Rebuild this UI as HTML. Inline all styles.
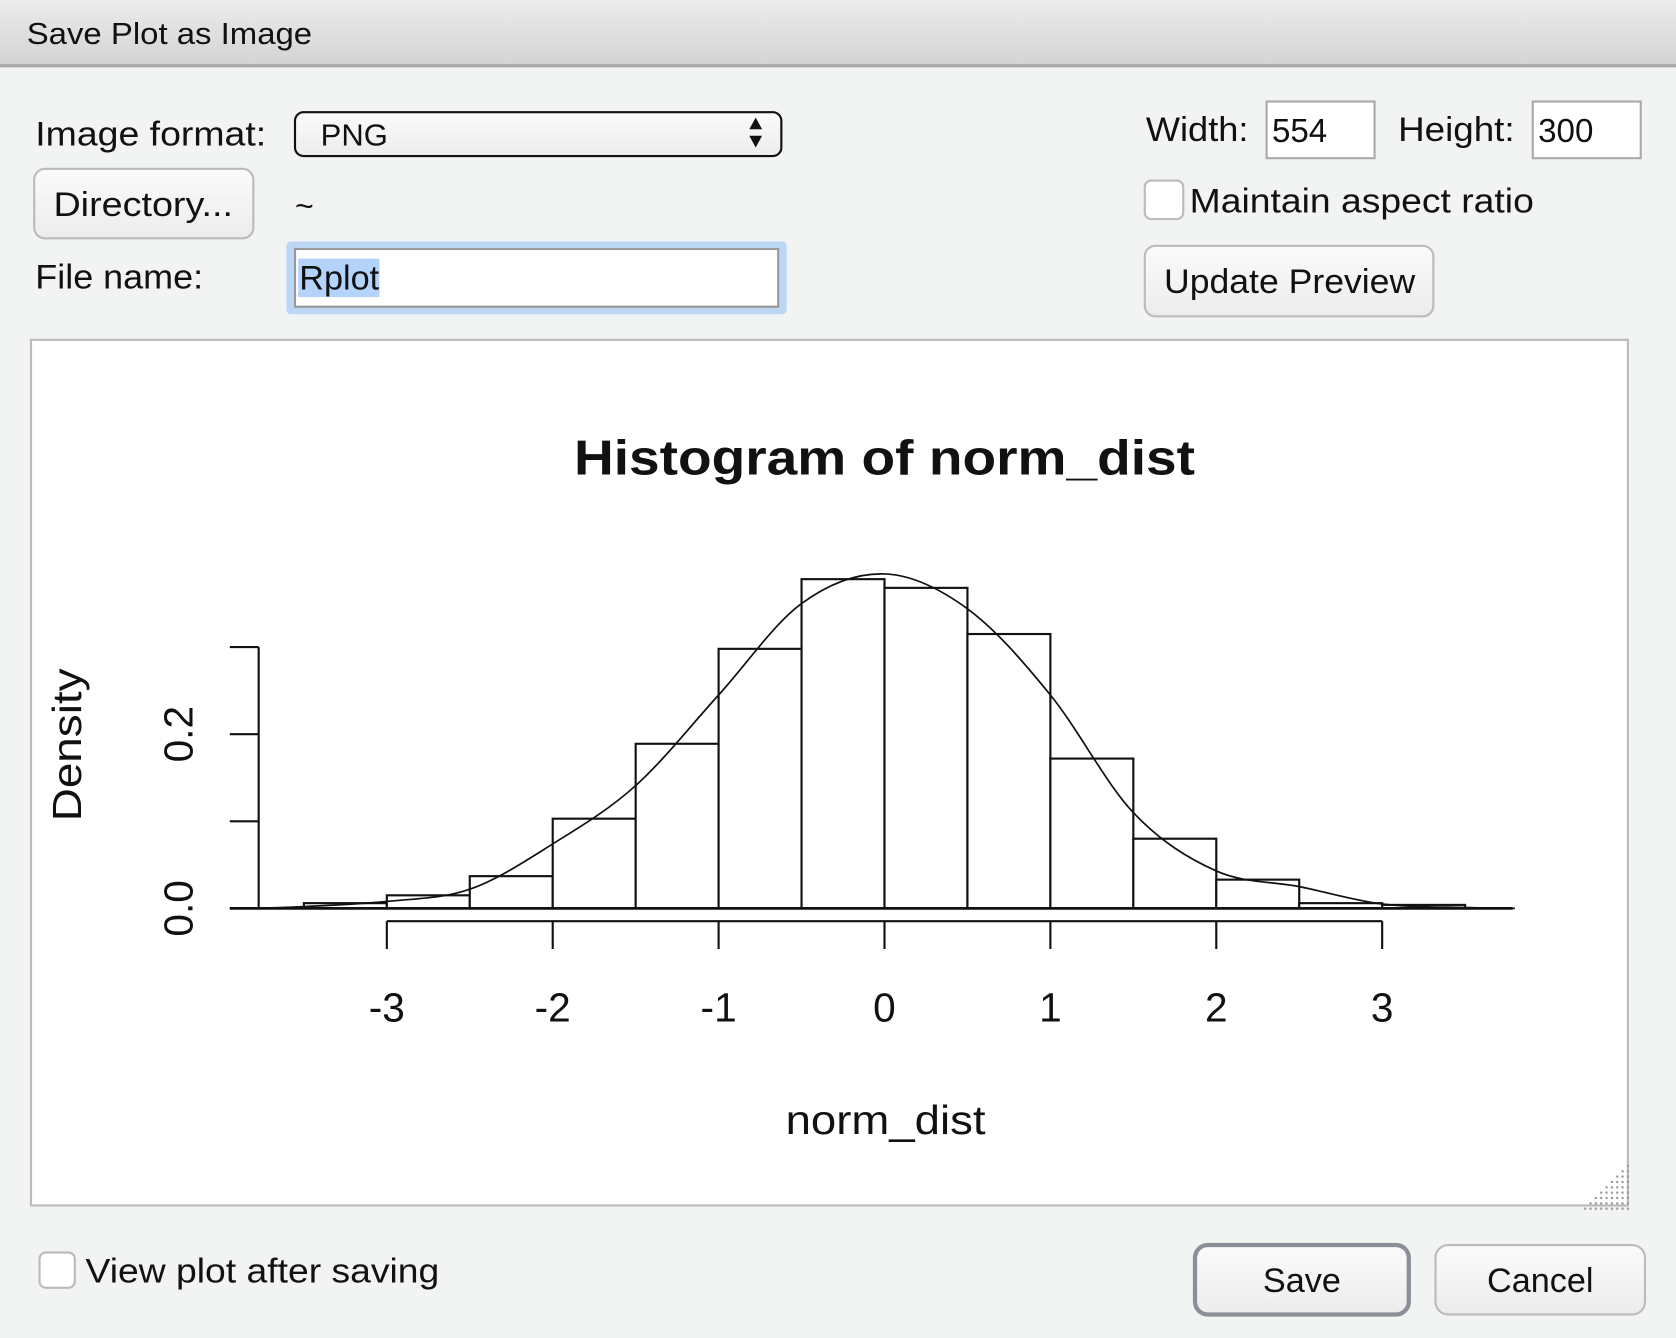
<!DOCTYPE html>
<html><head><meta charset="utf-8"><style>
html,body{margin:0;padding:0;width:1676px;height:1338px;overflow:hidden;background:#f2f3f3}
svg{display:block}
text{font-family:"Liberation Sans",sans-serif}
</style></head><body>
<svg id="s" width="1676" height="1338" viewBox="0 0 1568 1252" preserveAspectRatio="none" xmlns="http://www.w3.org/2000/svg">
<defs>
<linearGradient id="tb" x1="0" y1="0" x2="0" y2="1"><stop offset="0" stop-color="#ececec"/><stop offset="1" stop-color="#d3d3d3"/></linearGradient>
<linearGradient id="bt" x1="0" y1="0" x2="0" y2="1"><stop offset="0" stop-color="#fbfbfb"/><stop offset="1" stop-color="#ececec"/></linearGradient>
</defs>
<rect x="0" y="0" width="1568" height="1252" fill="#f2f3f3"/>
<g>
<rect x="0" y="0" width="1568" height="62" fill="url(#tb)"/>
<rect x="0" y="60" width="1568" height="3" fill="#a9a9a9"/>
<text x="25" y="41" font-size="29" fill="#111" textLength="267" lengthAdjust="spacingAndGlyphs">Save Plot as Image</text>
</g>
<text x="33" y="136" font-size="32" fill="#111" textLength="216" lengthAdjust="spacingAndGlyphs">Image format:</text>
<g>
<rect x="276" y="105" width="455" height="41" rx="8" fill="url(#bt)" stroke="#111" stroke-width="2"/>
<text x="300" y="136" font-size="29" fill="#111">PNG</text>
<path d="M701 121 L707 110 L713 121 Z M701 127 L713 127 L707 138 Z" fill="#111"/>
</g>
<g>
<rect x="32" y="158" width="205" height="65" rx="10" fill="url(#bt)" stroke="#bbb" stroke-width="2"/>
<text x="50" y="202" font-size="32" fill="#111" textLength="168" lengthAdjust="spacingAndGlyphs">Directory...</text>
</g>
<text x="276" y="203" font-size="30" fill="#111">~</text>
<text x="33" y="270" font-size="32" fill="#111" textLength="157" lengthAdjust="spacingAndGlyphs">File name:</text>
<g>
<rect x="268" y="226" width="468" height="68" rx="4" fill="#bcd7f6"/>
<rect x="276" y="233" width="452" height="54" fill="#fff" stroke="#999" stroke-width="2"/>
<rect x="279" y="242" width="76" height="36" fill="#b3d3fb"/>
<text x="280" y="271" font-size="32" fill="#111">Rplot</text>
</g>
<text x="1072" y="132" font-size="32" fill="#111" textLength="96" lengthAdjust="spacingAndGlyphs">Width:</text>
<g><rect x="1185" y="95" width="101" height="53" fill="#fff" stroke="#aaa" stroke-width="2"/><text x="1190" y="133" font-size="31" fill="#111">554</text></g>
<text x="1308" y="132" font-size="32" fill="#111" textLength="109" lengthAdjust="spacingAndGlyphs">Height:</text>
<g><rect x="1434" y="95" width="101" height="53" fill="#fff" stroke="#aaa" stroke-width="2"/><text x="1439" y="133" font-size="31" fill="#111">300</text></g>
<rect x="1071" y="169" width="36" height="36" rx="6" fill="#fff" stroke="#bbb" stroke-width="2"/>
<text x="1113" y="199" font-size="32" fill="#111" textLength="322" lengthAdjust="spacingAndGlyphs">Maintain aspect ratio</text>
<g>
<rect x="1071" y="230" width="270" height="66" rx="10" fill="url(#bt)" stroke="#bbb" stroke-width="2"/>
<text x="1089" y="274" font-size="32" fill="#111" textLength="235" lengthAdjust="spacingAndGlyphs">Update Preview</text>
</g>
<rect x="29" y="318" width="1494" height="810" fill="#fff" stroke="#bbb" stroke-width="2"/>
<g id="grip"></g>
<g id="chart">
<text x="537" y="444" font-size="46" font-weight="bold" fill="#111" textLength="581" lengthAdjust="spacingAndGlyphs">Histogram of norm_dist</text>
<text x="735" y="1061" font-size="38" fill="#111" textLength="187" lengthAdjust="spacingAndGlyphs">norm_dist</text>
<text transform="translate(76 697) rotate(-90)" font-size="38" text-anchor="middle" fill="#111" textLength="143" lengthAdjust="spacingAndGlyphs">Density</text>
</g>
<rect x="37" y="1172" width="33" height="33" rx="6" fill="#fff" stroke="#bbb" stroke-width="2"/>
<text x="80" y="1200" font-size="32" fill="#111" textLength="331" lengthAdjust="spacingAndGlyphs">View plot after saving</text>
<g>
<rect x="1118" y="1165" width="200" height="65" rx="12" fill="url(#bt)" stroke="#8a8f98" stroke-width="4"/>
<text x="1218" y="1209" font-size="32" fill="#111" text-anchor="middle">Save</text>
</g>
<g>
<rect x="1343" y="1165" width="196" height="65" rx="12" fill="url(#bt)" stroke="#bbb" stroke-width="2"/>
<text x="1441" y="1209" font-size="32" fill="#111" text-anchor="middle">Cancel</text>
</g>
</svg>
<script>
const breaks=[-3.5,-3,-2.5,-2,-1.5,-1,-0.5,0,0.5,1,1.5,2,2.5,3,3.5];
const densities=[0.006,0.015,0.037,0.103,0.189,0.298,0.378,0.368,0.315,0.172,0.080,0.033,0.006,0.004];
const curveX=[-3.8,-3.5,-3,-2.5,-2,-1.5,-1,-0.5,0,0.5,1,1.5,2,2.5,3,3.5,3.8];
const curveY=[0.0,0.002,0.008,0.022,0.074,0.141,0.245,0.35,0.384,0.344,0.245,0.11,0.043,0.025,0.005,0.001,0.0];
const xTicks=[-3,-2,-1,0,1,2,3];
const xTickLabels=["-3","-2","-1","0","1","2","3"];
const yTicks=[0,0.1,0.2,0.3];
const yTickLabels=["0.0","","0.2",""];
const NS="http://www.w3.org/2000/svg";
const X=v=>827.5+v*155.2, Y=v=>850-v*815;
const chart=document.getElementById('chart');
function mk(tag,attrs){const e=document.createElementNS(NS,tag);for(const k in attrs)e.setAttribute(k,attrs[k]);chart.appendChild(e);return e;}
densities.forEach((d,i)=>{
 const r=mk('rect',{x:X(breaks[i]),y:Y(d),width:X(breaks[i+1])-X(breaks[i]),height:850-Y(d),fill:'#fff',stroke:'#111','stroke-width':2});
 
 
});
const base=mk('line',{x1:215,y1:850,x2:1415,y2:850,stroke:'#111','stroke-width':2.5});


let pts=curveX.map((x,i)=>[X(x),Y(curveY[i])]);
let d='M'+pts[0][0]+' '+pts[0][1];
for(let i=0;i<pts.length-1;i++){const p0=pts[i-1]||pts[i],p1=pts[i],p2=pts[i+1],p3=pts[i+2]||p2;
 d+=` C${p1[0]+(p2[0]-p0[0])/6} ${p1[1]+(p2[1]-p0[1])/6} ${p2[0]-(p3[0]-p1[0])/6} ${p2[1]-(p3[1]-p1[1])/6} ${p2[0]} ${p2[1]}`;}
const c=mk('path',{d:d,fill:'none',stroke:'#111','stroke-width':1.6});


const xa=mk('line',{x1:X(xTicks[0]),y1:862,x2:X(xTicks[xTicks.length-1]),y2:862,stroke:'#111','stroke-width':2});


xTicks.forEach((t,i)=>{
 const l=mk('line',{x1:X(t),y1:862,x2:X(t),y2:888,stroke:'#111','stroke-width':2});
 
 
 const tx=mk('text',{x:X(t),y:956,'font-size':38,'text-anchor':'middle',fill:'#111'});
 tx.textContent=xTickLabels[i];
 
 
});
const ya=mk('line',{x1:242,y1:Y(yTicks[0]),x2:242,y2:Y(yTicks[yTicks.length-1]),stroke:'#111','stroke-width':2});


yTicks.forEach((t,i)=>{
 const l=mk('line',{x1:215,y1:Y(t),x2:242,y2:Y(t),stroke:'#111','stroke-width':2});
 
 
 if(yTickLabels[i]){const tx=mk('text',{transform:`translate(180 ${Y(t)}) rotate(-90)`,'font-size':38,'text-anchor':'middle',fill:'#111'});
 tx.textContent=yTickLabels[i];
 
 }
});
const g=document.getElementById('grip');
for(let r=0;r<9;r++)for(let k=0;k<=r;k++){const e=document.createElementNS(NS,'rect');e.setAttribute('x',1522-k*5);e.setAttribute('y',1090+r*5);e.setAttribute('width',2);e.setAttribute('height',2);e.setAttribute('fill','#999');g.appendChild(e);}
</script>
</body></html>
